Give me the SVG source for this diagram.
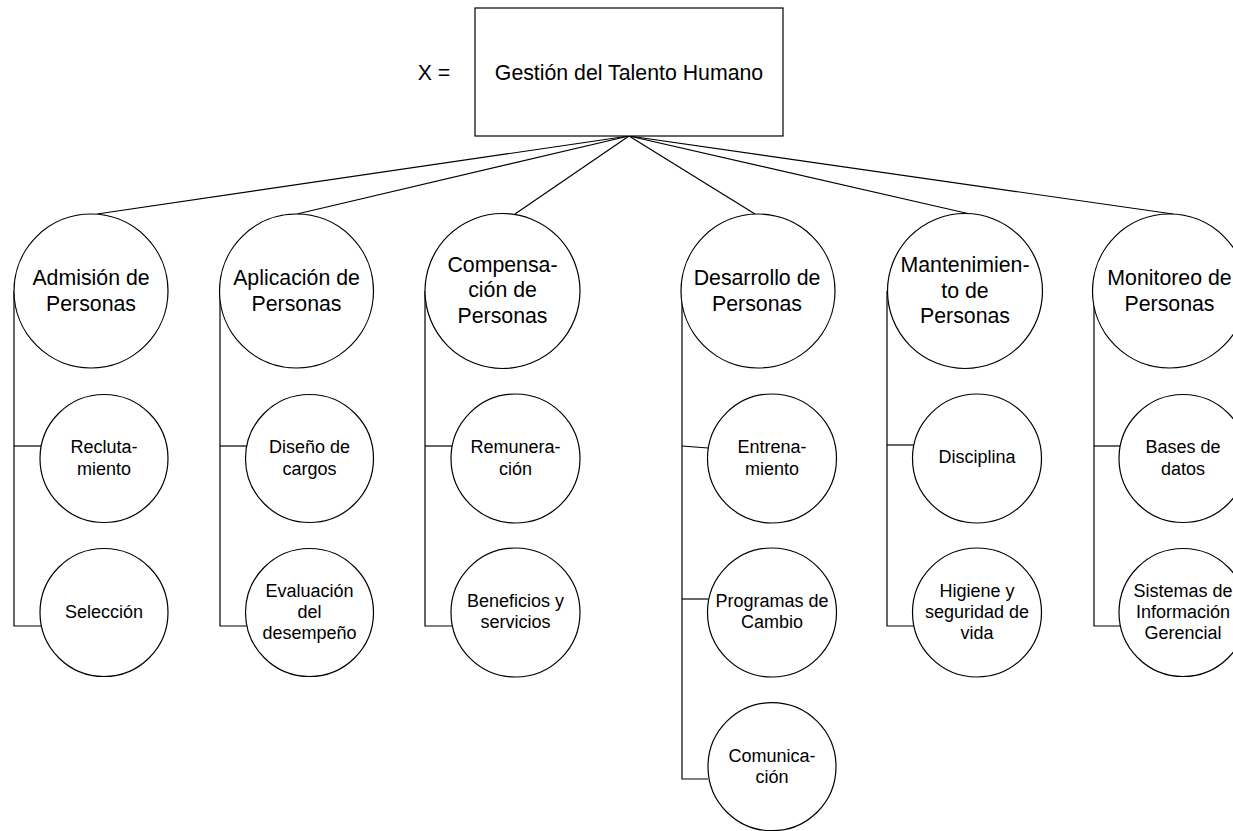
<svg xmlns="http://www.w3.org/2000/svg" width="1233" height="831" viewBox="0 0 1233 831">
  <style>
    .shape { fill: #ffffff; stroke: #000000; stroke-width: 1.2; }
    .link { fill: none; stroke: #000000; stroke-width: 1.2; }
    text { font-family: "Liberation Sans", Arial, sans-serif; fill: #000000; text-anchor: middle; }
    .big { font-size: 21.3px; }
    .small { font-size: 18px; }
  </style>
  <rect x="0" y="0" width="1233" height="831" fill="#ffffff"/>

  <!-- connectors -->
  <g id="connectors" class="link">
    <!-- root to the six areas -->
    <line x1="629" y1="136" x2="97" y2="214"/>
    <line x1="629" y1="136" x2="297" y2="214"/>
    <line x1="629" y1="136" x2="515" y2="214"/>
    <line x1="629" y1="136" x2="755" y2="214"/>
    <line x1="629" y1="136" x2="970" y2="214"/>
    <line x1="629" y1="136" x2="1173" y2="214"/>
    <!-- area to sub-processes -->
    <polyline points="14,291 14,626 42,626"/>
    <line x1="14" y1="446" x2="41" y2="446"/>
    <polyline points="220,291 220,626 248,626"/>
    <line x1="220" y1="446" x2="247" y2="446"/>
    <polyline points="425,291 425,626 453,626"/>
    <line x1="425" y1="446" x2="452" y2="446"/>
    <polyline points="682,291 682,779 708,779"/>
    <line x1="682" y1="446" x2="708" y2="448"/>
    <line x1="682" y1="599" x2="708" y2="599"/>
    <polyline points="887,291 887,626 915,626"/>
    <line x1="887" y1="445" x2="914" y2="445"/>
    <polyline points="1094,291 1094,626 1121,626"/>
    <line x1="1094" y1="446" x2="1120" y2="446"/>
  </g>

  <!-- root -->
  <g id="root">
    <text class="big" x="434" y="80">X =</text>
    <rect class="shape" x="475" y="8" width="308" height="128"/>
    <text class="big" x="629" y="80">Gestión del Talento Humano</text>
  </g>

  <!-- column 1 -->
  <g id="admision">
    <circle class="shape" cx="91" cy="291" r="77"/>
    <text class="big" x="91" y="285">Admisión de</text>
    <text class="big" x="91" y="311">Personas</text>
  </g>
  <g id="reclutamiento">
    <circle class="shape" cx="104" cy="458.5" r="64"/>
    <text class="small" x="104" y="453">Recluta-</text>
    <text class="small" x="104" y="475">miento</text>
  </g>
  <g id="seleccion">
    <circle class="shape" cx="104" cy="612.5" r="64"/>
    <text class="small" x="104" y="618">Selección</text>
  </g>

  <!-- column 2 -->
  <g id="aplicacion">
    <circle class="shape" cx="296.5" cy="291" r="77"/>
    <text class="big" x="296.5" y="285">Aplicación de</text>
    <text class="big" x="296.5" y="311">Personas</text>
  </g>
  <g id="diseno">
    <circle class="shape" cx="309.5" cy="458.5" r="64"/>
    <text class="small" x="309.5" y="453">Diseño de</text>
    <text class="small" x="309.5" y="475">cargos</text>
  </g>
  <g id="evaluacion">
    <circle class="shape" cx="309.5" cy="612.5" r="64"/>
    <text class="small" x="309.5" y="597">Evaluación</text>
    <text class="small" x="309.5" y="618">del</text>
    <text class="small" x="309.5" y="639">desempeño</text>
  </g>

  <!-- column 3 -->
  <g id="compensacion">
    <circle class="shape" cx="502.5" cy="291" r="77.5"/>
    <text class="big" x="502.5" y="272">Compensa-</text>
    <text class="big" x="502.5" y="297">ción de</text>
    <text class="big" x="502.5" y="323">Personas</text>
  </g>
  <g id="remuneracion">
    <circle class="shape" cx="515.5" cy="458.5" r="64.5"/>
    <text class="small" x="515.5" y="453">Remunera-</text>
    <text class="small" x="515.5" y="475">ción</text>
  </g>
  <g id="beneficios">
    <circle class="shape" cx="515.5" cy="612.5" r="64.5"/>
    <text class="small" x="515.5" y="607">Beneficios y</text>
    <text class="small" x="515.5" y="628">servicios</text>
  </g>

  <!-- column 4 -->
  <g id="desarrollo">
    <circle class="shape" cx="758" cy="291" r="77"/>
    <text class="big" x="757" y="285">Desarrollo de</text>
    <text class="big" x="757" y="311">Personas</text>
  </g>
  <g id="entrenamiento">
    <circle class="shape" cx="772" cy="458.5" r="64.5"/>
    <text class="small" x="772" y="453">Entrena-</text>
    <text class="small" x="772" y="475">miento</text>
  </g>
  <g id="programas">
    <circle class="shape" cx="772" cy="612.5" r="64.5"/>
    <text class="small" x="772" y="607">Programas de</text>
    <text class="small" x="772" y="628">Cambio</text>
  </g>
  <g id="comunicacion">
    <circle class="shape" cx="772" cy="766.7" r="64"/>
    <text class="small" x="772" y="762">Comunica-</text>
    <text class="small" x="772" y="783">ción</text>
  </g>

  <!-- column 5 -->
  <g id="mantenimiento">
    <circle class="shape" cx="965" cy="291" r="77.5"/>
    <text class="big" x="965" y="272">Mantenimien-</text>
    <text class="big" x="965" y="298">to de</text>
    <text class="big" x="965" y="323">Personas</text>
  </g>
  <g id="disciplina">
    <circle class="shape" cx="977" cy="458.5" r="64.5"/>
    <text class="small" x="977" y="463">Disciplina</text>
  </g>
  <g id="higiene">
    <circle class="shape" cx="977" cy="612.5" r="64.5"/>
    <text class="small" x="977" y="597">Higiene y</text>
    <text class="small" x="977" y="618">seguridad de</text>
    <text class="small" x="977" y="639">vida</text>
  </g>

  <!-- column 6 -->
  <g id="monitoreo">
    <circle class="shape" cx="1169.5" cy="291" r="77"/>
    <text class="big" x="1169.5" y="285">Monitoreo de</text>
    <text class="big" x="1169.5" y="311">Personas</text>
  </g>
  <g id="bases">
    <circle class="shape" cx="1183" cy="458.5" r="64"/>
    <text class="small" x="1183" y="453">Bases de</text>
    <text class="small" x="1183" y="475">datos</text>
  </g>
  <g id="sistemas">
    <circle class="shape" cx="1183" cy="612.5" r="64"/>
    <text class="small" x="1183" y="597">Sistemas de</text>
    <text class="small" x="1183" y="618">Información</text>
    <text class="small" x="1183" y="639">Gerencial</text>
  </g>
</svg>
